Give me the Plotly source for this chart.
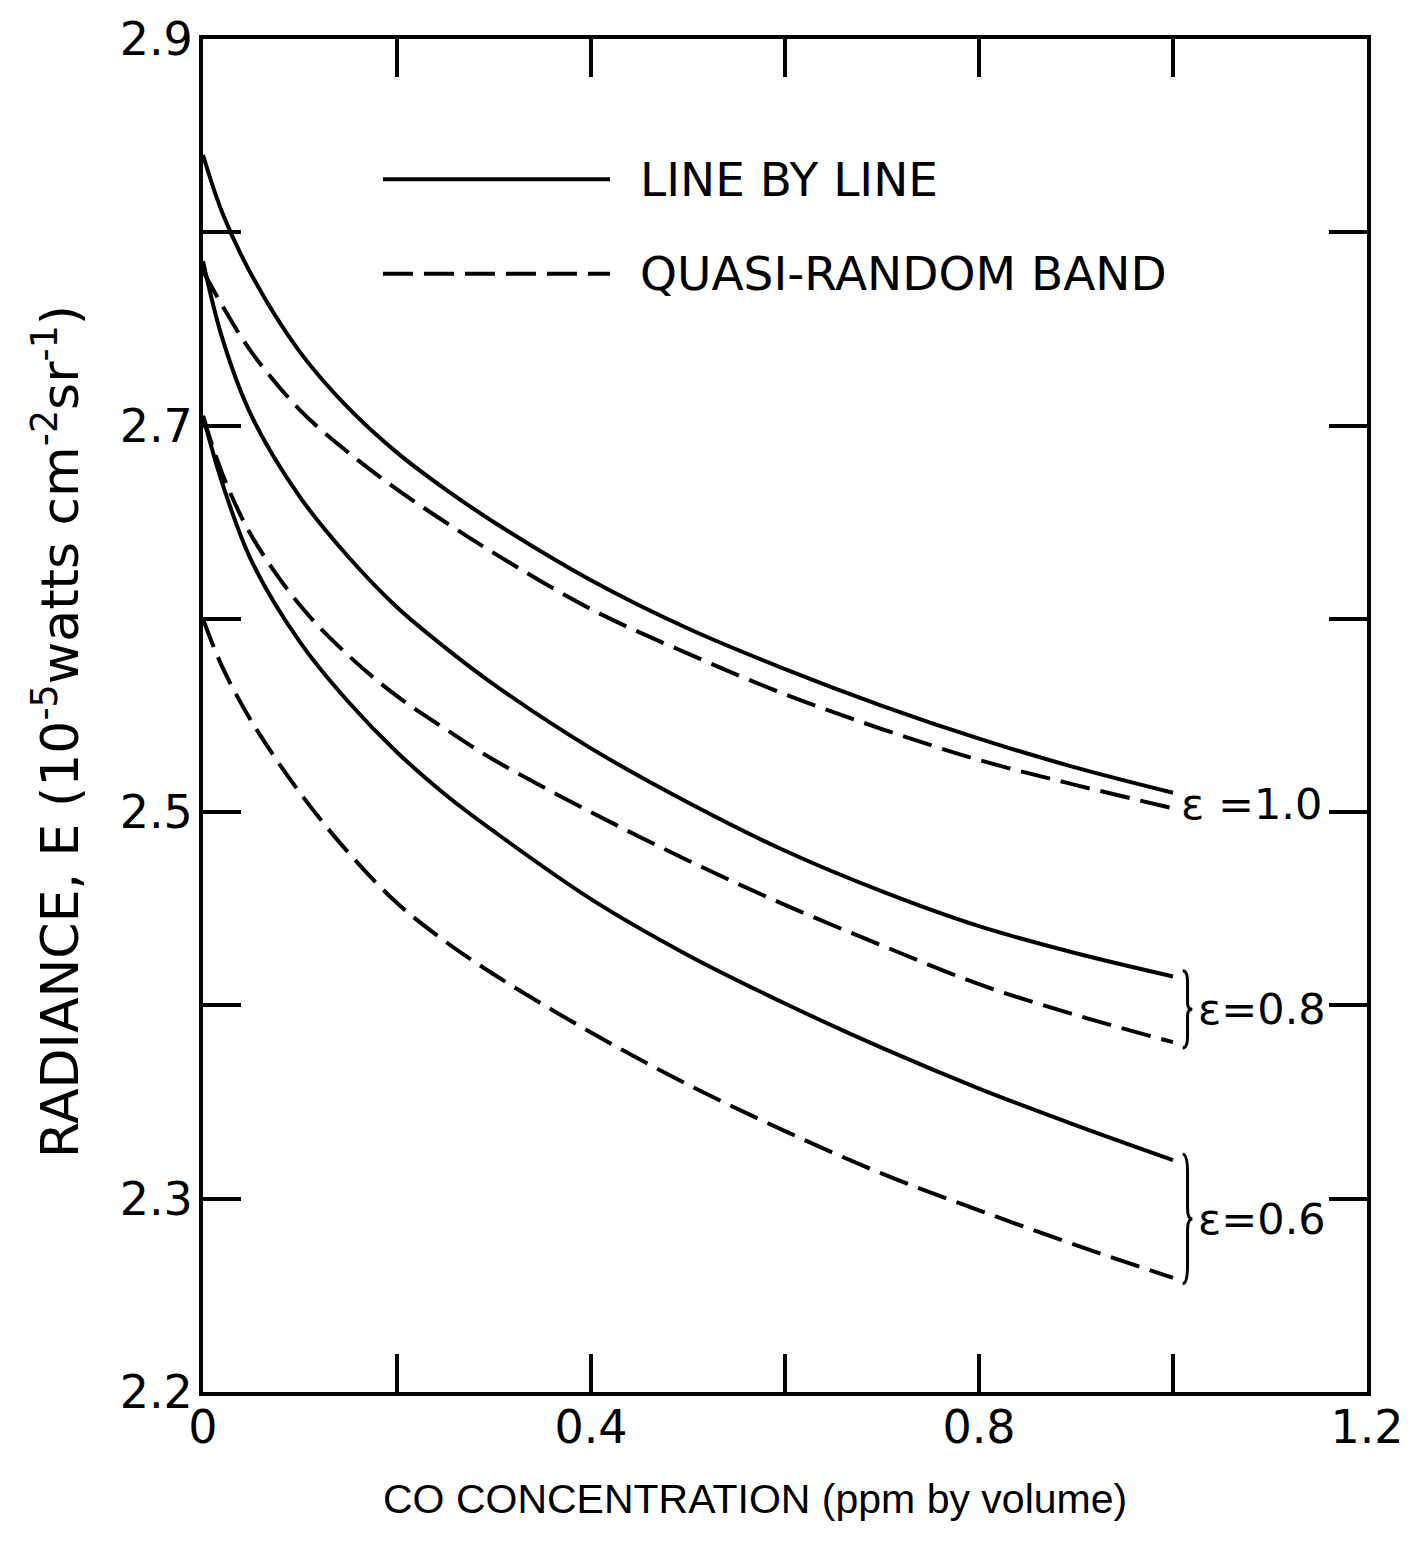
import plotly.graph_objects as go

# ---- data ----
co_ppm = [0.0, 0.02, 0.05, 0.1, 0.15, 0.2, 0.25, 0.3, 0.4, 0.5, 0.6, 0.7, 0.8, 0.9, 1.0]

lbl_e10 = [2.840, 2.810, 2.778, 2.738, 2.709, 2.686, 2.667, 2.650, 2.620, 2.595, 2.574, 2.555, 2.538, 2.523, 2.510]
qrb_e10 = [2.780, 2.762, 2.738, 2.708, 2.686, 2.667, 2.650, 2.634, 2.605, 2.582, 2.561, 2.543, 2.527, 2.514, 2.502]

lbl_e08 = [2.785, 2.745, 2.705, 2.663, 2.632, 2.606, 2.585, 2.566, 2.533, 2.505, 2.480, 2.459, 2.441, 2.427, 2.415]
qrb_e08 = [2.705, 2.675, 2.643, 2.607, 2.581, 2.560, 2.543, 2.527, 2.500, 2.475, 2.452, 2.431, 2.411, 2.395, 2.381]

lbl_e06 = [2.705, 2.670, 2.630, 2.588, 2.557, 2.531, 2.509, 2.490, 2.455, 2.426, 2.401, 2.378, 2.357, 2.338, 2.320]
qrb_e06 = [2.600, 2.575, 2.547, 2.510, 2.479, 2.453, 2.433, 2.416, 2.386, 2.359, 2.335, 2.313, 2.294, 2.276, 2.259]

x_label_vals = [0.0, 0.4, 0.8, 1.2]
x_label_text = ["0", "0.4", "0.8", "1.2"]
x_minor_step = 0.2
y_label_vals = [2.2, 2.3, 2.5, 2.7, 2.9]
y_label_text = ["2.2", "2.3", "2.5", "2.7", "2.9"]
y_minor_step = 0.1

legend_names = ["LINE BY LINE", "QUASI-RANDOM BAND"]
eps_labels = ["\u03b5 =1.0", "\u03b5=0.8", "\u03b5=0.6"]

# ---- styles ----
FONT = "DejaVu Sans"
LW = 4
DASH = "30px,11px"

fig = go.Figure()
pairs = [(lbl_e10, qrb_e10), (lbl_e08, qrb_e08), (lbl_e06, qrb_e06)]
for solid, dashed in pairs:
    fig.add_trace(go.Scatter(x=co_ppm, y=solid, mode="lines",
                             line=dict(color="black", width=LW, shape="spline", smoothing=1.0),
                             showlegend=False, hoverinfo="skip"))
    fig.add_trace(go.Scatter(x=co_ppm, y=dashed, mode="lines",
                             line=dict(color="black", width=LW, dash=DASH, shape="spline", smoothing=1.0),
                             showlegend=False, hoverinfo="skip"))

W, H = 1416, 1549
L, R, T, B = 203, 49, 32, 157

axis_common = dict(showgrid=False, zeroline=False, showline=True, linecolor="black",
                   linewidth=4, mirror="allticks", ticks="inside", ticklen=38,
                   tickwidth=4, tickcolor="black",
                   tickfont=dict(family=FONT, size=46, color="black"))
minor_common = dict(ticks="inside", ticklen=38, tickwidth=4, tickcolor="black", showgrid=False)

fig.update_xaxes(range=[0, 1.2], tickmode="array", tickvals=x_label_vals, ticktext=x_label_text,
                 minor=dict(dtick=x_minor_step, tick0=0, **minor_common),
                 ticklabelstandoff=-8, **axis_common)
fig.update_yaxes(range=[2.2, 2.9], tickmode="array", tickvals=y_label_vals, ticktext=y_label_text,
                 minor=dict(dtick=y_minor_step, tick0=2.2, **minor_common),
                 ticklabelstandoff=-3, **axis_common)

annotations = []
shapes = []

# legend (drawn manually: long sample lines)
leg_y = [0.8963, 0.8265]
leg_dash = ["solid", DASH]
for name, yy, dsh in zip(legend_names, leg_y, leg_dash):
    shapes.append(dict(type="line", xref="paper", yref="paper", x0=0.1546, x1=0.3497,
                       y0=yy, y1=yy, line=dict(color="black", width=LW, dash=dsh)))
    annotations.append(dict(text=name, xref="paper", yref="paper", x=0.3737, y=yy,
                            xanchor="left", yanchor="middle", showarrow=False,
                            font=dict(family=FONT, size=47, color="black")))

# epsilon labels and braces
end_x = co_ppm[-1]
label_y = [(lbl_e10[-1] + qrb_e10[-1]) / 2 - 0.002,
           (lbl_e08[-1] + qrb_e08[-1]) / 2,
           (lbl_e06[-1] + qrb_e06[-1]) / 2]
label_x = [end_x + 0.006, end_x + 0.024, end_x + 0.024]
for txt, lx, ly in zip(eps_labels, label_x, label_y):
    annotations.append(dict(text=txt, x=lx, y=ly, xanchor="left", yanchor="middle",
                            showarrow=False, font=dict(family=FONT, size=43, color="black")))

for solid, dashed in pairs[1:]:
    yt = solid[-1] + 0.003
    yb = dashed[-1] - 0.003
    ym = (yt + yb) / 2
    h = yt - yb
    xb = end_x + 0.010
    dx = 0.005
    path = (f"M {xb},{yt} Q {xb+dx},{yt} {xb+dx},{yt-0.15*h} "
            f"L {xb+dx},{ym+0.08*h} Q {xb+dx},{ym} {xb+2*dx},{ym} "
            f"Q {xb+dx},{ym} {xb+dx},{ym-0.08*h} "
            f"L {xb+dx},{yb+0.15*h} Q {xb+dx},{yb} {xb},{yb}")
    shapes.append(dict(type="path", xref="x", yref="y", path=path,
                       line=dict(color="black", width=3)))

# axis titles
annotations.append(dict(text="CO CONCENTRATION (ppm by volume)", xref="paper", yref="paper",
                        x=0.4742, y=-0.0794, xanchor="center", yanchor="middle", showarrow=False,
                        font=dict(family="Liberation Sans", size=41, color="black")))
annotations.append(dict(text="RADIANCE, E (10<sup>-5</sup>watts cm<sup>-2</sup>sr<sup>-1</sup>)",
                        xref="paper", yref="paper", x=-0.126, y=0.488, textangle=-90,
                        xanchor="center", yanchor="middle", showarrow=False,
                        font=dict(family=FONT, size=52, color="black")))

fig.update_layout(width=W, height=H, margin=dict(l=L, r=R, t=T, b=B),
                  plot_bgcolor="white", paper_bgcolor="white",
                  annotations=annotations, shapes=shapes, showlegend=False)

fig.write_html("out.html")
